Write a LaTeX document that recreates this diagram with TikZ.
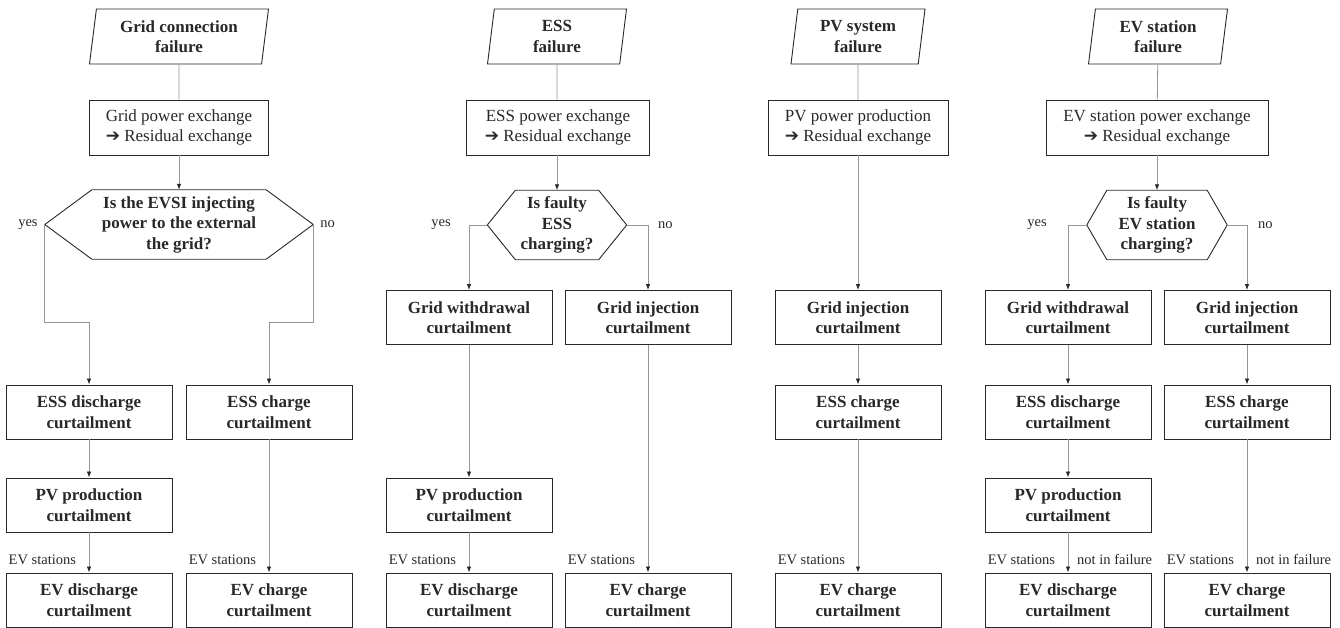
\documentclass[tikz,border=0pt]{standalone}
\usepackage{fontspec}
\setmainfont{Liberation Serif}
\newfontfamily\symfont{DejaVu Sans}
\usepackage{tikz}
\usetikzlibrary{arrows.meta}
\usetikzlibrary{positioning}
\usetikzlibrary{calc}
\usetikzlibrary{shapes.geometric}
\definecolor{boxc}{RGB}{40,40,40}
\definecolor{linec}{RGB}{150,150,150}
\newcommand{\thento}{{\symfont ➔}}
\newcommand{\boxfont}{\fontsize{17}{20.5}\selectfont}
\tikzset{failbox/.style = {trapezium, trapezium left angle=78, trapezium right angle=102, trapezium stretches body, draw=boxc, line width=0.9pt, font=\boxfont\bfseries, align=center, minimum height=55, inner sep=0},
         procbox/.style = {rectangle, draw=boxc, line width=0.9pt, font=\boxfont, align=center, minimum height=55},
         curtbox/.style = {rectangle, draw=boxc, line width=0.9pt, font=\boxfont\bfseries, align=center, minimum width=166, minimum height=54},
         decision/.style = {font=\boxfont\bfseries, align=center, inner sep=0, minimum height=69},
         hexline/.style = {draw=boxc, line width=0.9pt},
         link/.style = {draw=linec, line width=0.8pt},
         arr/.style = {link, -{Latex[length=6pt, width=4.5pt, color=boxc]}},
         lbl/.style = {font=\fontsize{14.5}{16}\selectfont, inner sep=1pt}}
\newcommand{\hexpath}[2]{\draw[hexline] (#1.west) -- ($(#1.north west)+(#2,0)$) -- ($(#1.north east)+(-#2,0)$) -- (#1.east) -- ($(#1.south east)+(-#2,0)$) -- ($(#1.south west)+(#2,0)$) -- cycle;}
\begin{document}
\begin{tikzpicture}[x=1pt, y=-1pt, text=boxc]
        \useasboundingbox (0,0) rectangle (1340,628);
        \coordinate (bend1) at (0,322);
        % grid connection failure
        \node[failbox, minimum width=179] (fail1) at (179,36.5) {Grid connection\\failure};
        \node[procbox, minimum width=179] (proc1) at (179,127.5) {Grid power exchange\\\thento\ Residual exchange};
        \node[decision, minimum width=268] (ask1) at (179,224.5) {Is the EVSI injecting\\power to the external\\the grid?};
        \hexpath{ask1}{47}
        \node[curtbox] (essdis1) at (89,412) {ESS discharge\\curtailment};
        \node[curtbox] (esschg1) at (269,412) {ESS charge\\curtailment};
        \node[curtbox] (pvcut1) at (89,505) {PV production\\curtailment};
        \node[curtbox] (evdis1) at (89,600) {EV discharge\\curtailment};
        \node[curtbox] (evchg1) at (269,600) {EV charge\\curtailment};
        \node[lbl, anchor=east] (yes1) at ([xshift=-6pt]ask1.west) {yes};
        \node[lbl, anchor=west] (no1) at ([xshift=6pt]ask1.east) {no};
        \node[lbl, anchor=west] (evs1a) at ([xshift=2pt, yshift=13pt]evdis1.north west) {EV stations};
        \node[lbl, anchor=west] (evs1b) at ([xshift=2pt, yshift=13pt]evchg1.north west) {EV stations};
        \draw[link] (fail1) -- (proc1);
        \draw[arr] (proc1) -- (ask1.north);
        \draw[arr] (ask1.west) -- (ask1.west |- bend1) -| (essdis1.north);
        \draw[arr] (ask1.east) -- (ask1.east |- bend1) -| (esschg1.north);
        \draw[arr] (essdis1) -- (pvcut1);
        \draw[arr] (pvcut1) -- (evdis1);
        \draw[arr] (esschg1) -- (evchg1);
        % ESS failure
        \node[failbox, minimum width=139] (fail2) at (557,36.5) {ESS\\failure};
        \node[procbox, minimum width=183] (proc2) at (558,127.5) {ESS power exchange\\\thento\ Residual exchange};
        \node[decision, minimum width=139] (ask2) at (557,225) {Is faulty\\ESS\\charging?};
        \hexpath{ask2}{28}
        \node[curtbox] (gridw2) at (469,317.5) {Grid withdrawal\\curtailment};
        \node[curtbox] (gridi2) at (648,317.5) {Grid injection\\curtailment};
        \node[curtbox] (pvcut2) at (469,505) {PV production\\curtailment};
        \node[curtbox] (evdis2) at (469,600) {EV discharge\\curtailment};
        \node[curtbox] (evchg2) at (648,600) {EV charge\\curtailment};
        \node[lbl, anchor=east] (yes2) at ([xshift=-17pt]gridw2.north |- ask2.west) {yes};
        \node[lbl, anchor=west] (no2) at ([xshift=9pt]gridi2.north |- ask2.east) {no};
        \node[lbl, anchor=west] (evs2a) at ([xshift=2pt, yshift=13pt]evdis2.north west) {EV stations};
        \node[lbl, anchor=west] (evs2b) at ([xshift=2pt, yshift=13pt]evchg2.north west) {EV stations};
        \draw[link] (fail2) -- (proc2.north -| fail2);
        \draw[arr] (proc2.south -| ask2) -- (ask2.north);
        \draw[arr] (ask2.west) -| (gridw2.north);
        \draw[arr] (ask2.east) -| (gridi2.north);
        \draw[arr] (gridw2) -- (pvcut2);
        \draw[arr] (pvcut2) -- (evdis2);
        \draw[arr] (gridi2) -- (evchg2);
        % PV system failure
        \node[failbox, minimum width=134] (fail3) at (858,36.5) {PV system\\failure};
        \node[procbox, minimum width=180] (proc3) at (858,127.5) {PV power production\\\thento\ Residual exchange};
        \node[curtbox] (gridi3) at (858,317.5) {Grid injection\\curtailment};
        \node[curtbox] (esschg3) at (858,412) {ESS charge\\curtailment};
        \node[curtbox] (evchg3) at (858,600) {EV charge\\curtailment};
        \node[lbl, anchor=west] (evs3) at ([xshift=2pt, yshift=13pt]evchg3.north west) {EV stations};
        \draw[link] (fail3) -- (proc3);
        \draw[arr] (proc3) -- (gridi3);
        \draw[arr] (gridi3) -- (esschg3);
        \draw[arr] (esschg3) -- (evchg3);
        % EV station failure
        \node[failbox, minimum width=139] (fail4) at (1158,36.5) {EV station\\failure};
        \node[procbox, minimum width=222] (proc4) at (1157,127.5) {EV station power exchange\\\thento\ Residual exchange};
        \node[decision, minimum width=140] (ask4) at (1157,225) {Is faulty\\EV station\\charging?};
        \hexpath{ask4}{20}
        \node[curtbox] (gridw4) at (1068,317.5) {Grid withdrawal\\curtailment};
        \node[curtbox] (gridi4) at (1247,317.5) {Grid injection\\curtailment};
        \node[curtbox] (essdis4) at (1068,412) {ESS discharge\\curtailment};
        \node[curtbox] (esschg4) at (1247,412) {ESS charge\\curtailment};
        \node[curtbox] (pvcut4) at (1068,505) {PV production\\curtailment};
        \node[curtbox] (evdis4) at (1068,600) {EV discharge\\curtailment};
        \node[curtbox] (evchg4) at (1247,600) {EV charge\\curtailment};
        \node[lbl, anchor=east] (yes4) at ([xshift=-20pt]gridw4.north |- ask4.west) {yes};
        \node[lbl, anchor=west] (no4) at ([xshift=10pt]gridi4.north |- ask4.east) {no};
        \node[lbl, anchor=west] (evs4a) at ([xshift=2pt, yshift=13pt]evdis4.north west) {EV stations};
        \node[lbl, anchor=west] (nif4a) at ([xshift=8pt, yshift=13pt]evdis4.north) {not in failure};
        \node[lbl, anchor=west] (evs4b) at ([xshift=2pt, yshift=13pt]evchg4.north west) {EV stations};
        \node[lbl, anchor=west] (nif4b) at ([xshift=8pt, yshift=13pt]evchg4.north) {not in failure};
        \draw[link] (fail4) -- (proc4);
        \draw[arr] (proc4) -- (ask4.north);
        \draw[arr] (ask4.west) -| (gridw4.north);
        \draw[arr] (ask4.east) -| (gridi4.north);
        \draw[arr] (gridw4) -- (essdis4);
        \draw[arr] (essdis4) -- (pvcut4);
        \draw[arr] (pvcut4) -- (evdis4);
        \draw[arr] (gridi4) -- (esschg4);
        \draw[arr] (esschg4) -- (evchg4);
    \end{tikzpicture}
\end{document}
